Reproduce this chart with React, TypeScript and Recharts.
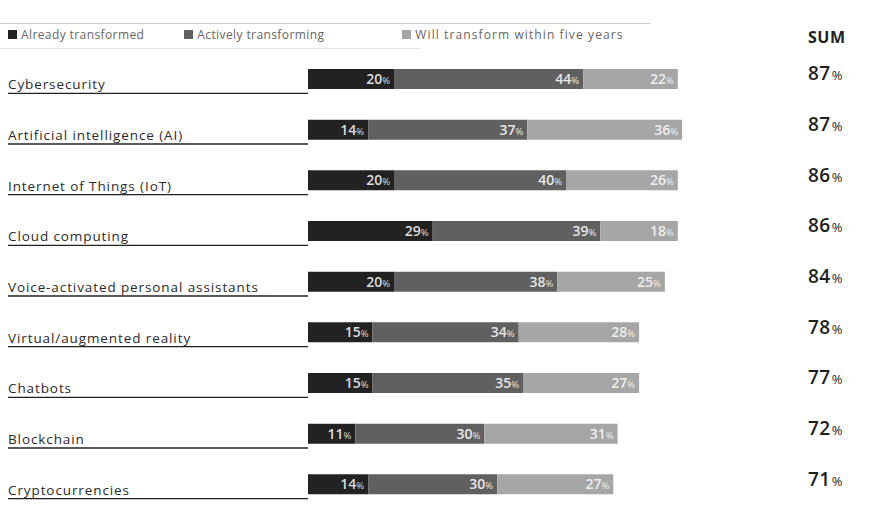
import { BarChart, Bar, XAxis, YAxis, LabelList } from "recharts";

const categories = [
    "Cybersecurity",
    "Artificial intelligence (AI)",
    "Internet of Things (IoT)",
    "Cloud computing",
    "Voice-activated personal assistants",
    "Virtual/augmented reality",
    "Chatbots",
    "Blockchain",
    "Cryptocurrencies",
];
const alreadyTransformed = [20, 14, 20, 29, 20, 15, 15, 11, 14];
const activelyTransforming = [44, 37, 40, 39, 38, 34, 35, 30, 30];
const willTransform = [22, 36, 26, 18, 25, 28, 27, 31, 27];
const sums = [87, 87, 86, 86, 84, 78, 77, 72, 71];

const SERIES = [
    { key: "already", name: "Already transformed", color: "#222222", text: "#dcdcdc", gap: 40, ls: 0.4 },
    { key: "actively", name: "Actively transforming", color: "#606060", text: "#e6e6e6", gap: 78, ls: 0.4 },
    { key: "will", name: "Will transform within five years", color: "#a6a6a6", text: "#eeeeee", gap: 0, ls: 1.1 },
];

const data = categories.map((name, i) => ({
    name,
    already: alreadyTransformed[i],
    actively: activelyTransforming[i],
    will: willTransform[i],
    sum: sums[i],
}));

const FONT = "'Open Sans', sans-serif";

function CategoryTick({ x, y, payload }: any) {
    return (
        <g>
            <text x={8} y={y + 10} fontSize={13.5} letterSpacing={0.9} fill="#2a2a2a" fontFamily={FONT}>
                {payload.value}
            </text>
            <line x1={8} x2={x} y1={y + 14} y2={y + 14} stroke="#222" strokeWidth={1.3} />
        </g>
    );
}

function SumTick({ x, y, payload }: any) {
    const v = sums[payload.index];
    return (
        <text x={x + 70} y={y + 1} fontFamily={FONT} fill="#1e1e1e">
            <tspan fontSize={19} fontWeight={600} letterSpacing={0.5}>{v}</tspan>
            <tspan fontSize={13} dx={1}>%</tspan>
        </text>
    );
}

const segLabel = (color: string) => (props: any) => {
    const { x, y, width, height, value } = props;
    return (
        <text x={x + width - 4} y={y + height / 2 + 5} textAnchor="end" fontFamily={FONT} fill={color}>
            <tspan fontSize={14} fontWeight={600}>{value}</tspan>
            <tspan fontSize={9.5}>%</tspan>
        </text>
    );
};

export default function App() {
    return (
        <div style={{ position: "absolute", left: 0, top: 0, width: 879, height: 511, background: "#fff", overflow: "hidden" }}>
            <div style={{ position: "absolute", left: 0, top: 23, width: 650, borderTop: "1px solid #c8c8c8" }} />
            <div style={{ position: "absolute", left: 0, top: 48, width: 420, borderTop: "1px solid #e2e2e2" }} />
            <div style={{ position: "absolute", left: 8, top: 26, display: "flex", fontFamily: FONT, fontSize: 12, color: "#666" }}>
                {SERIES.map((s) => (
                    <div key={s.key} style={{ display: "flex", alignItems: "center", marginRight: s.gap, letterSpacing: s.ls }}>
                        <span style={{ width: 9, height: 9, background: s.color, marginRight: 4, display: "inline-block" }} />
                        {s.name}
                    </div>
                ))}
            </div>
            <div style={{ position: "absolute", left: 808, top: 26, fontFamily: FONT, fontSize: 16, fontWeight: 700, color: "#222", letterSpacing: 0.5 }}>
                SUM
            </div>
            <div style={{ position: "absolute", left: 0, top: 0 }}>
                <BarChart
                    width={879}
                    height={511}
                    data={data}
                    layout="vertical"
                    margin={{ top: 54, right: 0, bottom: 1, left: 0 }}
                    barSize={20}
                >
                    <XAxis type="number" domain={[0, 100]} hide />
                    <YAxis
                        yAxisId="left"
                        type="category"
                        dataKey="name"
                        width={308}
                        axisLine={false}
                        tickLine={false}
                        tickSize={0}
                        tickMargin={0}
                        tick={<CategoryTick />}
                        interval={0}
                    />
                    <YAxis
                        yAxisId="right"
                        orientation="right"
                        type="category"
                        dataKey="name"
                        width={141}
                        axisLine={false}
                        tickLine={false}
                        tickSize={0}
                        tickMargin={0}
                        tick={<SumTick />}
                        interval={0}
                    />
                    {SERIES.map((s) => (
                        <Bar key={s.key} yAxisId="left" dataKey={s.key} name={s.name} stackId="a" fill={s.color} isAnimationActive={false}>
                            <LabelList dataKey={s.key} content={segLabel(s.text)} />
                        </Bar>
                    ))}
                </BarChart>
            </div>
        </div>
    );
}
